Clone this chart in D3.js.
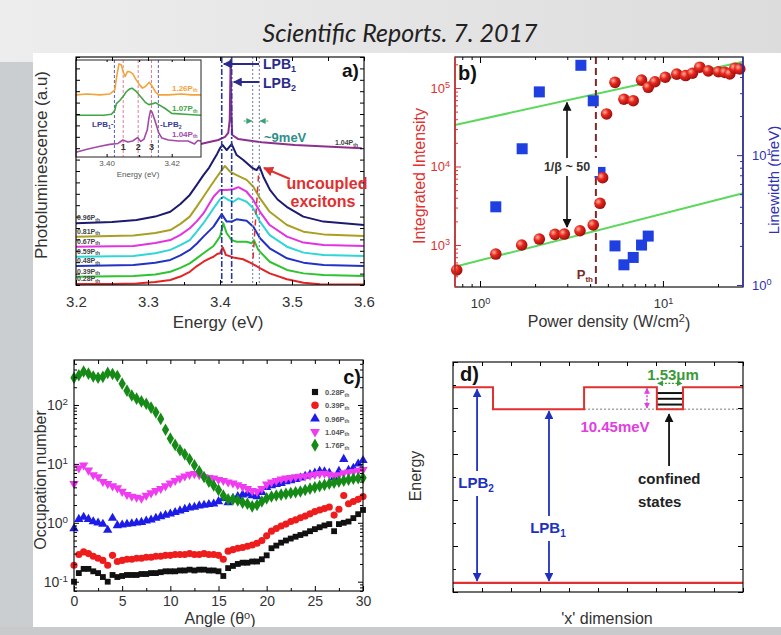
<!DOCTYPE html>
<html>
<head>
<meta charset="utf-8">
<script src="https://cdn.jsdelivr.net/npm/d3@7"></script>
<style>
  body { margin: 0; overflow: hidden; background: #fff; }
  svg { display: block; }
</style>
</head>
<body>
<script>
// ---------------- Panel a: PL spectra [energy (eV), intensity (a.u.)] ----------------
const spec028 = [[3.20,0.4],[3.25,0.4],[3.284,0.7],[3.31,1.3],[3.331,2.2],[3.345,3.7],[3.358,5.8],[3.368,8.3],[3.377,10.2],[3.385,11.6],[3.391,12.4],[3.396,13.6],[3.400,13.9],[3.4037,16.5],[3.4065,14.5],[3.408,13.2],[3.4185,12.1],[3.432,11.3],[3.444,9.5],[3.456,7.3],[3.469,5.1],[3.493,2.5],[3.516,1.0],[3.539,0.3],[3.60,0.2]];
const spec039 = [[3.20,3.6],[3.28,3.9],[3.31,4.6],[3.331,5.8],[3.345,7.5],[3.358,9.5],[3.368,11.8],[3.377,13.9],[3.391,17.1],[3.400,21.2],[3.4046,27.1],[3.4093,22.7],[3.4162,19.7],[3.4231,19.0],[3.437,19.0],[3.444,18.3],[3.4472,19.7],[3.4532,15.4],[3.469,10.2],[3.493,6.6],[3.516,5.1],[3.544,4.4],[3.60,3.9]];
const spec048 = [[3.20,8.3],[3.28,8.8],[3.31,9.8],[3.331,11.0],[3.345,13.0],[3.358,15.4],[3.368,18.2],[3.377,21.2],[3.391,25.6],[3.4024,31.1],[3.4093,27.8],[3.4162,27.8],[3.4231,28.8],[3.437,28.2],[3.4463,25.6],[3.4556,20.5],[3.469,16.1],[3.493,11.7],[3.516,9.8],[3.544,8.8],[3.60,8.3]];
const spec059 = [[3.20,12.4],[3.28,12.7],[3.31,13.9],[3.331,15.4],[3.345,17.5],[3.358,19.7],[3.368,23.5],[3.377,27.1],[3.391,33.6],[3.400,37.6],[3.4046,38.7],[3.4116,37.3],[3.4185,36.5],[3.4255,38.0],[3.437,36.5],[3.4463,33.6],[3.4556,27.8],[3.469,21.9],[3.493,16.8],[3.516,14.2],[3.544,13.2],[3.60,12.7]];
const spec067 = [[3.20,16.8],[3.28,17.1],[3.31,18.4],[3.331,19.7],[3.345,22.0],[3.358,24.9],[3.368,28.0],[3.377,31.4],[3.391,38.7],[3.400,41.7],[3.4093,41.7],[3.4185,42.0],[3.4255,42.9],[3.437,40.9],[3.4463,37.3],[3.4556,32.1],[3.469,26.3],[3.493,21.2],[3.516,18.6],[3.544,17.5],[3.60,17.1]];
const spec081 = [[3.20,21.2],[3.28,21.7],[3.31,22.8],[3.331,24.1],[3.345,26.8],[3.358,30.0],[3.368,34.5],[3.377,38.7],[3.391,45.3],[3.4024,50.4],[3.4069,52.2],[3.4139,49.7],[3.4231,48.2],[3.437,46.1],[3.4463,43.1],[3.4556,38.0],[3.469,32.1],[3.493,26.3],[3.516,23.4],[3.544,22.2],[3.60,21.5]];
const spec096 = [[3.20,27.1],[3.25,27.6],[3.284,28.5],[3.31,30.0],[3.331,32.1],[3.345,35.5],[3.358,39.5],[3.368,44.0],[3.377,48.2],[3.385,51.5],[3.391,54.8],[3.396,57.5],[3.400,60.0],[3.4037,61.4],[3.4093,59.2],[3.4162,61.8],[3.4231,57.0],[3.4324,54.8],[3.4454,51.2],[3.4509,50.4],[3.4546,52.2],[3.4602,47.5],[3.4694,41.7],[3.48,37.5],[3.4926,34.3],[3.5157,30.0],[3.5435,27.8],[3.60,26.3]];
const spec104 = [[3.370,61.6],[3.3837,62.6],[3.3977,63.6],[3.407,65.0],[3.4115,66.7],[3.4135,72.4],[3.4148,98.7],[3.4160,73.2],[3.417,65.8],[3.4254,64.0],[3.4347,63.6],[3.4579,62.6],[3.504,61.4],[3.597,60.0]];
const spectraA = [spec028, spec039, spec048, spec059, spec067, spec081, spec096, spec104];
const powerLabelsA = ["0.28", "0.39", "0.48", "0.59", "0.67", "0.81", "0.96", "1.04"];
const energyTicksA = [3.2, 3.3, 3.4, 3.5, 3.6];
const lpbEnergies = [3.4024, 3.4162];          // LPB1, LPB2
const excitonEnergies = [3.4454, 3.4546];      // ~9 meV pair

// Inset: zoomed spectra [energy (eV), intensity (a.u.)]
const inset126 = [[3.3906,64],[3.394,65],[3.398,64],[3.401,65],[3.4025,69],[3.4032,85],[3.4038,96],[3.4045,95],[3.405,89],[3.4057,83],[3.4064,88],[3.407,88],[3.408,86],[3.409,80],[3.410,75],[3.411,71],[3.412,73],[3.4131,77],[3.414,73],[3.415,67],[3.416,64],[3.419,64],[3.423,65],[3.426,64],[3.429,64]];
const inset107 = [[3.3906,43],[3.395,43],[3.399,43],[3.4015,44],[3.4025,48],[3.403,55],[3.404,58],[3.405,62],[3.406,67],[3.407,70],[3.4078,71],[3.409,68],[3.410,64],[3.411,60],[3.412,56],[3.413,54],[3.4142,55],[3.415,56],[3.416,54],[3.418,50],[3.420,45],[3.424,44],[3.429,43]];
const inset104 = [[3.3906,5],[3.394,8],[3.398,11],[3.401,13],[3.4035,14],[3.405,17.5],[3.4065,15.5],[3.408,16.5],[3.4095,20],[3.4105,16],[3.4115,18.5],[3.4125,28],[3.413,40],[3.4135,48],[3.414,46],[3.415,36],[3.416,25],[3.417,19.5],[3.419,17.5],[3.422,16.5],[3.425,16.5],[3.427,13.5],[3.428,17],[3.429,16.5]];
const insetSpectra = [inset126, inset107, inset104];
const insetLabels = ["1.26P", "1.07P", "1.04P"];
const insetModeEnergies = [3.4051, 3.4097, 3.4138];   // modes 1, 2, 3
const insetTicks = [3.40, 3.42];

// ---------------- Panel b: power dependence ----------------
const powerRed = [0.746,1.22,1.69,2.11,2.57,2.89,3.52,4.16,4.53,4.68,4.92,5.47,6.12,6.88,7.64,8.31,9.04,10.3,11.9,13.3,14.5,15.9,17.7,20.1,21.8,23.2,24.7,26.3];
const intensity = [481,767,1000,1192,1368,1380,1520,1800,3400,7200,46700,118000,71800,68900,126000,102000,120000,137000,150000,144000,154000,184000,165000,161000,158000,151000,178000,175000];
const powerBlue = [1.22,1.70,2.11,3.56,4.16,4.53,5.47,6.12,6.88,7.64,8.31];
const linewidth = [4.0,11.2,30.7,49.2,26.2,7.36,2.0,1.43,1.63,2.03,2.38];
const fitUpper = [[0.73,33800],[27.4,216000]];
const fitLower = [[0.73,530],[27.4,4560]];
const pThreshold = 4.3;

// ---------------- Panel c: occupation vs angle ----------------
const angles = d3.range(0, 30.001, 0.5);
const occ028 = [0.10,0.14,0.165,0.165,0.15,0.14,0.12,0.10,0.13,0.12,0.125,0.13,0.13,0.13,0.135,0.135,0.14,0.14,0.145,0.15,0.15,0.15,0.155,0.155,0.16,0.155,0.16,0.16,0.155,0.155,0.15,0.125,0.17,0.185,0.20,0.21,0.21,0.22,0.22,0.24,0.28,0.37,0.41,0.46,0.50,0.54,0.58,0.62,0.66,0.72,0.78,0.84,0.90,0.95,0.72,0.95,1.0,1.05,1.2,1.4,1.65];
const occ039 = [0.19,0.29,0.32,0.30,0.27,0.25,0.23,0.19,0.28,0.22,0.23,0.24,0.24,0.25,0.25,0.26,0.26,0.27,0.27,0.28,0.28,0.29,0.29,0.29,0.30,0.29,0.29,0.30,0.29,0.29,0.28,0.24,0.33,0.35,0.37,0.38,0.40,0.42,0.45,0.50,0.60,0.72,0.80,0.88,0.95,1.05,1.12,1.22,1.30,1.42,1.55,1.65,1.75,1.85,1.35,1.7,2.9,2.1,2.3,2.5,2.8];
const occ096 = [0.8,1.15,1.25,1.15,1.05,1.0,0.95,0.75,1.2,0.9,0.92,0.95,0.97,1.0,1.02,1.08,1.12,1.2,1.28,1.35,1.42,1.5,1.6,1.7,1.8,1.85,1.95,2.0,2.05,2.1,2.3,2.6,2.2,2.6,2.8,3.0,3.1,2.9,2.8,3.3,4.0,4.3,4.5,4.7,5.0,5.2,5.5,5.8,6.2,6.6,7.0,7.5,7.4,7.0,5.8,7.5,12.0,7.8,8.5,10.0,11.5];
const occ104 = [4.6,8.5,9.5,7.8,6.5,6.0,5.0,4.6,4.2,3.9,3.4,3.0,2.8,2.7,2.6,2.9,3.2,3.5,3.8,4.2,4.7,5.2,5.7,6.2,6.6,6.8,6.5,6.0,5.8,5.7,5.4,5.2,4.9,4.7,4.4,4.1,3.8,3.5,3.4,3.8,4.5,4.9,5.2,5.5,5.7,5.8,6.0,6.1,6.2,6.4,6.6,6.8,6.9,6.6,6.3,6.5,7.0,7.2,7.4,7.7,8.0];
const occ176 = [290,320,370,340,305,290,300,350,335,310,230,175,145,128,115,105,90,75,58,38,27,21,17,14.5,12,9.5,7.5,6.0,5.0,4.3,3.6,2.9,2.5,2.5,2.4,2.2,2.1,1.9,2.0,2.3,2.6,2.8,2.9,3.0,3.1,3.2,3.3,3.4,3.6,3.8,4.0,4.2,4.4,4.6,4.8,5.0,5.2,5.4,5.6,5.7,5.8];
const occSeries = [occ028, occ039, occ096, occ104, occ176];
const occLabels = ["0.28", "0.39", "0.96", "1.04", "1.76"];
const angleTicks = [0, 5, 10, 15, 20, 25, 30];

// ---------------- Panel d: potential landscape ----------------
const profile = [[0,8.9],[1.38,8.9],[1.38,7.95],[4.52,7.95],[4.52,8.9],[7.03,8.9],[7.03,7.95],[7.93,7.95],[7.93,8.9],[10,8.9]];
const floorLevel = 0.4;
const confinedLevels = [8.65, 8.4, 8.15];
const trapEdges = [7.03, 7.93];

// ---------------- styling ----------------
const FONT = "'Liberation Sans', Arial, Helvetica, sans-serif";
const colorsA = ["#e32424", "#2fc42f", "#2233c4", "#2fd6d6", "#e232e2", "#a9a022", "#1b1a6e", "#8c2f8e"];
const colorsInset = ["#f2a33a", "#3fa545", "#a24aa6"];
const colorsC = ["#111111", "#ee1c1c", "#1c1ce8", "#f03cf0", "#168a16"];
const symbolsC = [d3.symbolSquare, d3.symbolCircle, d3.symbolTriangle, d3.symbolTriangle, d3.symbolDiamond];

const svg = d3.select("body").append("svg").attr("width", 781).attr("height", 635)
  .attr("font-family", FONT);
const defs = svg.append("defs");

// background of the slide
const bg = defs.append("linearGradient").attr("id", "bgGrad");
bg.append("stop").attr("offset", "0%").attr("stop-color", "#ededed");
bg.append("stop").attr("offset", "100%").attr("stop-color", "#dcdcdc");
svg.append("rect").attr("width", 781).attr("height", 635).attr("fill", "url(#bgGrad)");
svg.append("rect").attr("x", 0).attr("y", 62).attr("width", 34).attr("height", 573).attr("fill", "#cbced0");
svg.append("rect").attr("x", 33).attr("y", 53).attr("width", 748).attr("height", 574).attr("fill", "#ffffff");

svg.append("text").attr("x", 400).attr("y", 42).attr("text-anchor", "middle")
  .attr("font-family", "Lato, 'Open Sans', sans-serif").attr("font-style", "italic")
  .attr("font-size", 25).attr("fill", "#222").text("Scientific Reports. 7. 2017");

// arrow markers
function marker(id, color, size) {
  defs.append("marker").attr("id", id).attr("viewBox", "0 0 10 10").attr("refX", 9).attr("refY", 5)
    .attr("markerWidth", size).attr("markerHeight", size).attr("markerUnits", "userSpaceOnUse")
    .attr("orient", "auto-start-reverse")
    .append("path").attr("d", "M0,0 L10,5 L0,10 Z").attr("fill", color);
}
marker("arNavy", "#2a2a8c", 9);
marker("arRed", "#e03030", 10);
marker("arTeal", "#3aa070", 6);
marker("arBlack", "#111", 9);
marker("arBlue", "#2030c0", 9);
marker("arMag", "#e040e0", 6);
marker("arGreen", "#3a9a3a", 6);

function styleAxis(g, size, color) {
  g.attr("font-family", FONT).attr("font-size", size);
  g.selectAll(".tick text").attr("fill", color || "#333");
  return g;
}
function powLabels(g) {
  g.selectAll(".tick text").each(function (d) {
    const t = d3.select(this);
    const e = Math.round(Math.log10(d));
    t.text(null);
    t.append("tspan").text("10");
    t.append("tspan").attr("dy", "-0.5em").attr("font-size", "70%").text(e);
  });
}
function minorLog(domain) {
  const out = [];
  const lo = Math.floor(Math.log10(domain[0])), hi = Math.ceil(Math.log10(domain[1]));
  for (let e = lo; e <= hi; e++) for (let m = 2; m <= 9; m++) {
    const v = m * Math.pow(10, e);
    if (v >= domain[0] && v <= domain[1]) out.push(v);
  }
  return out;
}
function subText(sel, main, sub, subSize) {
  sel.append("tspan").text(main);
  sel.append("tspan").attr("dy", "0.3em").attr("font-size", subSize).text(sub);
}

// =================== Panel a ===================
const xA = d3.scaleLinear([3.2, 3.6], [76, 364]);
const yA = d3.scaleLinear([0, 100], [285, 57]);
const gA = svg.append("g");
defs.append("clipPath").attr("id", "clipA").append("rect")
  .attr("x", 76).attr("y", 57).attr("width", 288).attr("height", 228);
const lineA = d3.line().x(d => xA(d[0])).y(d => yA(d[1]));
const curvesA = gA.append("g").attr("clip-path", "url(#clipA)");
spectraA.forEach((s, i) => {
  curvesA.append("path").datum(s).attr("d", lineA).attr("fill", "none")
    .attr("stroke", colorsA[i]).attr("stroke-width", 2).attr("stroke-linejoin", "round");
});
// LPB and exciton guide lines
lpbEnergies.forEach(e => {
  gA.append("line").attr("x1", xA(e)).attr("x2", xA(e)).attr("y1", 57).attr("y2", 285)
    .attr("stroke", "#2a3a9a").attr("stroke-width", 1.6).attr("stroke-dasharray", "6,2,2,2");
});
excitonEnergies.forEach(e => {
  gA.append("line").attr("x1", xA(e)).attr("x2", xA(e)).attr("y1", 57).attr("y2", 285)
    .attr("stroke", "#6a78a8").attr("stroke-width", 1).attr("stroke-dasharray", "2,2");
});
// uncoupled exciton marker
gA.append("line").attr("x1", xA(3.4535)).attr("y1", yA(48)).attr("x2", xA(3.4455)).attr("y2", yA(10))
  .attr("stroke", "#e03030").attr("stroke-width", 1.5).attr("stroke-dasharray", "6,5");

// power labels on the left of each spectrum
spectraA.forEach((s, i) => {
  const last = i === spectraA.length - 1;
  const t = gA.append("text").attr("font-size", 7).attr("font-weight", "bold").attr("fill", "#444")
    .attr("x", last ? 335 : 77).attr("y", yA(last ? s[s.length - 1][1] : s[0][1]) - 3);
  subText(t, powerLabelsA[i] + "P", "th", 5);
});

// inset
const xI = d3.scaleLinear([3.3906, 3.429], [76, 201]);
const yI = d3.scaleLinear([0, 100], [157, 60]);
const gI = gA.append("g");
gI.append("rect").attr("x", 76).attr("y", 60).attr("width", 125).attr("height", 97).attr("fill", "#fff");
const lineI = d3.line().x(d => xI(d[0])).y(d => yI(d[1]));
[lpbEnergies[0], lpbEnergies[1] - 0.0003].forEach(e => {
  gI.append("line").attr("x1", xI(e)).attr("x2", xI(e)).attr("y1", 60).attr("y2", 157)
    .attr("stroke", "#5a5ab8").attr("stroke-width", 1).attr("stroke-dasharray", "3,2");
});
insetModeEnergies.forEach(e => {
  gI.append("line").attr("x1", xI(e)).attr("x2", xI(e)).attr("y1", 60).attr("y2", 157)
    .attr("stroke", "#e57a9a").attr("stroke-width", 1).attr("stroke-dasharray", "3,2");
});
insetSpectra.forEach((s, i) => {
  gI.append("path").datum(s).attr("d", lineI).attr("fill", "none")
    .attr("stroke", colorsInset[i]).attr("stroke-width", 1.6).attr("stroke-linejoin", "round");
});
insetSpectra.forEach((s, i) => {
  const t = gI.append("text").attr("x", 172).attr("y", yI(s[s.length - 1][1]) - 4)
    .attr("font-size", 8).attr("font-weight", "bold").attr("fill", colorsInset[i]);
  subText(t, insetLabels[i], "th", 5);
});
insetModeEnergies.forEach((e, i) => {
  gI.append("text").attr("x", xI(e)).attr("y", 150).attr("text-anchor", "middle")
    .attr("font-size", 9).attr("font-weight", "bold").attr("fill", "#333").text(i + 1);
});
{
  const t1 = gI.append("text").attr("x", 92).attr("y", 127).attr("font-size", 8).attr("font-weight", "bold").attr("fill", "#3a3a9a");
  t1.append("tspan").text("LPB"); t1.append("tspan").attr("dy", "0.3em").attr("font-size", 5).text("1");
  t1.append("tspan").attr("dy", "-0.3em").text("-");
  const t2 = gI.append("text").attr("x", 160).attr("y", 127).attr("font-size", 8).attr("font-weight", "bold").attr("fill", "#3a3a9a");
  t2.append("tspan").text("-LPB"); t2.append("tspan").attr("dy", "0.3em").attr("font-size", 5).text("2");
}
gI.append("rect").attr("x", 76).attr("y", 60).attr("width", 125).attr("height", 97)
  .attr("fill", "none").attr("stroke", "#222").attr("stroke-width", 1);
styleAxis(gI.append("g").attr("transform", "translate(0,157)")
  .call(d3.axisBottom(xI).tickValues(insetTicks).tickSizeInner(-3).tickSizeOuter(0).tickPadding(3).tickFormat(d3.format(".2f"))), 8, "#555");
gI.append("g").attr("transform", "translate(0,157)")
  .call(d3.axisBottom(xI).tickValues([3.41]).tickSizeInner(-2).tickSizeOuter(0).tickFormat(""));
gI.append("g").attr("transform", "translate(0,60)")
  .call(d3.axisTop(xI).tickValues([3.40, 3.41, 3.42]).tickSizeInner(-2).tickSizeOuter(0).tickFormat(""));
gI.selectAll(".domain").remove();
gI.append("text").attr("x", 138).attr("y", 177).attr("text-anchor", "middle").attr("font-size", 8).attr("fill", "#555").text("Energy (eV)");

// main frame and axes of panel a
gA.append("rect").attr("x", 76).attr("y", 57).attr("width", 288).attr("height", 228)
  .attr("fill", "none").attr("stroke", "#111").attr("stroke-width", 1.2);
styleAxis(gA.append("g").attr("transform", "translate(0,285)")
  .call(d3.axisBottom(xA).tickValues(energyTicksA).tickSizeInner(-5).tickSizeOuter(0).tickPadding(11).tickFormat(d3.format(".1f"))), 15);
gA.append("g").attr("transform", "translate(0,285)")
  .call(d3.axisBottom(xA).tickValues([3.25, 3.35, 3.45, 3.55]).tickSizeInner(-3).tickSizeOuter(0).tickFormat(""));
gA.append("g").attr("transform", "translate(0,57)")
  .call(d3.axisTop(xA).tickValues(d3.range(3.2, 3.601, 0.05)).tickSizeInner(-4).tickSizeOuter(0).tickFormat(""));
gA.append("g").attr("transform", "translate(76,0)")
  .call(d3.axisLeft(yA).tickValues(d3.range(0, 101, 5)).tickSizeInner(-4).tickSizeOuter(0).tickFormat(""));
gA.append("g").attr("transform", "translate(364,0)")
  .call(d3.axisRight(yA).tickValues(d3.range(0, 101, 5)).tickSizeInner(-4).tickSizeOuter(0).tickFormat(""));
gA.selectAll(".domain").remove();

gA.append("text").attr("transform", "translate(47,165) rotate(-90)").attr("text-anchor", "middle")
  .attr("font-size", 17).attr("fill", "#333").text("Photoluminescence (a.u)");
gA.append("text").attr("x", 218).attr("y", 328).attr("text-anchor", "middle")
  .attr("font-size", 17).attr("fill", "#333").text("Energy (eV)");
gA.append("text").attr("x", 342).attr("y", 77).attr("font-size", 19).attr("font-weight", "bold").attr("fill", "#111").text("a)");

// LPB arrows
[[lpbEnergies[0], 64, 69], [lpbEnergies[1], 82, 88]].forEach((d, i) => {
  gA.append("line").attr("x1", 259).attr("x2", xA(d[0]) + 2).attr("y1", d[1]).attr("y2", d[1])
    .attr("stroke", "#2a2a8c").attr("stroke-width", 2).attr("marker-end", "url(#arNavy)");
  const t = gA.append("text").attr("x", 263).attr("y", d[2]).attr("font-size", 14).attr("font-weight", "bold").attr("fill", "#2a2a8c");
  t.append("tspan").text("LPB"); t.append("tspan").attr("dy", "0.35em").attr("font-size", 9).text(i + 1);
});
// ~9 meV marker
gA.append("line").attr("x1", xA(excitonEnergies[0]) - 9).attr("x2", xA(excitonEnergies[0]) - 1).attr("y1", 121).attr("y2", 121)
  .attr("stroke", "#3aa070").attr("stroke-width", 1.2).attr("stroke-dasharray", "2,1.5").attr("marker-end", "url(#arTeal)");
gA.append("line").attr("x1", xA(excitonEnergies[1]) + 9).attr("x2", xA(excitonEnergies[1]) + 1).attr("y1", 121).attr("y2", 121)
  .attr("stroke", "#3aa070").attr("stroke-width", 1.2).attr("stroke-dasharray", "2,1.5").attr("marker-end", "url(#arTeal)");
gA.append("text").attr("x", 264).attr("y", 142).attr("font-size", 13).attr("font-weight", "bold").attr("fill", "#2e8f8a").text("~9meV");
// uncoupled excitons
gA.append("line").attr("x1", 290).attr("y1", 179).attr("x2", 264).attr("y2", 168)
  .attr("stroke", "#e03030").attr("stroke-width", 2).attr("marker-end", "url(#arRed)");
gA.append("text").attr("x", 327).attr("y", 189).attr("text-anchor", "middle").attr("font-size", 16).attr("font-weight", "bold").attr("fill", "#e03030").text("uncoupled");
gA.append("text").attr("x", 323).attr("y", 207).attr("text-anchor", "middle").attr("font-size", 16).attr("font-weight", "bold").attr("fill", "#e03030").text("excitons");

// =================== Panel b ===================
const xB = d3.scaleLog([0.73, 27.4], [455, 743]);
const yB = d3.scaleLog([292, 248000], [287, 57]);
const yB2 = d3.scaleLog([0.965, 57], [287, 57]);
const gB = svg.append("g");
const sph = defs.append("radialGradient").attr("id", "sphere").attr("cx", "35%").attr("cy", "35%").attr("r", "65%");
sph.append("stop").attr("offset", "0%").attr("stop-color", "#ffb0a0");
sph.append("stop").attr("offset", "45%").attr("stop-color", "#e8281c");
sph.append("stop").attr("offset", "100%").attr("stop-color", "#a01010");

const lineB = d3.line().x(d => xB(d[0])).y(d => yB(d[1]));
[fitUpper, fitLower].forEach(f => {
  gB.append("path").datum(f).attr("d", lineB).attr("stroke", "#5cd85c").attr("stroke-width", 2).attr("fill", "none");
});
gB.append("line").attr("x1", xB(pThreshold)).attr("x2", xB(pThreshold)).attr("y1", 57).attr("y2", 287)
  .attr("stroke", "#7a2a2a").attr("stroke-width", 2).attr("stroke-dasharray", "7,4");
gB.selectAll("rect.lw").data(powerBlue).join("rect").attr("class", "lw")
  .attr("x", (d, i) => xB(d) - 5.5).attr("y", (d, i) => yB2(linewidth[i]) - 5.5)
  .attr("width", 11).attr("height", 11).attr("fill", "#1f3fe0");
gB.selectAll("circle.ii").data(powerRed).join("circle").attr("class", "ii")
  .attr("cx", d => xB(d)).attr("cy", (d, i) => yB(intensity[i])).attr("r", 5.8).attr("fill", "url(#sphere)");

// double arrow for 1/beta
gB.append("line").attr("x1", 567).attr("x2", 567).attr("y1", yB(fitUpper[0][1] * Math.pow(fitUpper[1][1] / fitUpper[0][1], Math.log10(3.12 / 0.73) / Math.log10(27.4 / 0.73))) + 3)
  .attr("y2", yB(1600) - 2)
  .attr("stroke", "#111").attr("stroke-width", 1.6).attr("marker-start", "url(#arBlack)").attr("marker-end", "url(#arBlack)");
gB.append("rect").attr("x", 536).attr("y", 158).attr("width", 62).attr("height", 18).attr("fill", "#fff");
gB.append("text").attr("x", 567).attr("y", 171).attr("text-anchor", "middle").attr("font-size", 12.5)
  .attr("font-weight", "bold").attr("fill", "#333").text("1/β ~ 50");
{
  const t = gB.append("text").attr("x", 593).attr("y", 279).attr("text-anchor", "end").attr("font-size", 13).attr("font-weight", "bold").attr("fill", "#7a2a2a");
  t.append("tspan").text("P"); t.append("tspan").attr("dy", "0.35em").attr("font-size", 8).text("th");
}
gB.append("rect").attr("x", 455).attr("y", 57).attr("width", 288).attr("height", 230).attr("fill", "none")
  .attr("stroke", "#111").attr("stroke-width", 1.2);
gB.append("line").attr("x1", 455).attr("x2", 455).attr("y1", 57).attr("y2", 287).attr("stroke", "#e03030").attr("stroke-width", 1.4);
gB.append("line").attr("x1", 743).attr("x2", 743).attr("y1", 57).attr("y2", 287).attr("stroke", "#3030b0").attr("stroke-width", 1.4);
{
  const gx = gB.append("g").attr("transform", "translate(0,287)")
    .call(d3.axisBottom(xB).tickValues([1, 10]).tickSizeInner(-6).tickSizeOuter(0).tickPadding(12));
  styleAxis(gx, 13); powLabels(gx);
  gB.append("g").attr("transform", "translate(0,287)")
    .call(d3.axisBottom(xB).tickValues(minorLog(xB.domain())).tickSizeInner(-3).tickSizeOuter(0).tickFormat(""));
  gB.append("g").attr("transform", "translate(0,57)")
    .call(d3.axisTop(xB).tickValues([1, 10]).tickSizeInner(-6).tickSizeOuter(0).tickFormat(""));
  gB.append("g").attr("transform", "translate(0,57)")
    .call(d3.axisTop(xB).tickValues(minorLog(xB.domain())).tickSizeInner(-3).tickSizeOuter(0).tickFormat(""));
  const gl = gB.append("g").attr("transform", "translate(455,0)").attr("color", "#e03030")
    .call(d3.axisLeft(yB).tickValues([1e3, 1e4, 1e5]).tickSizeInner(-6).tickSizeOuter(0).tickPadding(5));
  styleAxis(gl, 13, "#e03030"); powLabels(gl);
  gB.append("g").attr("transform", "translate(455,0)").attr("color", "#e03030")
    .call(d3.axisLeft(yB).tickValues(minorLog(yB.domain())).tickSizeInner(-3).tickSizeOuter(0).tickFormat(""));
  const gr = gB.append("g").attr("transform", "translate(743,0)").attr("color", "#3030b0")
    .call(d3.axisRight(yB2).tickValues([1, 10]).tickSizeInner(-6).tickSizeOuter(0).tickPadding(9));
  styleAxis(gr, 13, "#3030b0"); powLabels(gr);
  gB.append("g").attr("transform", "translate(743,0)").attr("color", "#3030b0")
    .call(d3.axisRight(yB2).tickValues(minorLog(yB2.domain())).tickSizeInner(-3).tickSizeOuter(0).tickFormat(""));
  gB.selectAll(".domain").remove();
}
gB.append("text").attr("x", 458).attr("y", 80).attr("font-size", 20).attr("font-weight", "bold").attr("fill", "#111").text("b)");
gB.append("text").attr("transform", "translate(425,176) rotate(-90)").attr("text-anchor", "middle")
  .attr("font-size", 16).attr("fill", "#e03030").text("Integrated Intensity");
gB.append("text").attr("transform", "translate(779,180) rotate(-90)").attr("text-anchor", "middle")
  .attr("font-size", 15).attr("fill", "#3030b0").text("Linewidth (meV)");
{
  const t = gB.append("text").attr("x", 609).attr("y", 327).attr("text-anchor", "middle").attr("font-size", 16).attr("fill", "#333");
  t.append("tspan").text("Power density (W/cm");
  t.append("tspan").attr("dy", "-0.45em").attr("font-size", 11).text("2");
  t.append("tspan").attr("dy", "0.45em").text(")");
}

// =================== Panel c ===================
const xC = d3.scaleLinear([0, 30], [74, 363]);
const yC = d3.scaleLog([0.0695, 580], [591, 360]);
const gC = svg.append("g");
const symSize = [34, 40, 38, 38, 46];
occSeries.forEach((s, i) => {
  const sym = d3.symbol().type(symbolsC[i]).size(symSize[i]);
  gC.append("g").selectAll("path").data(s).join("path")
    .attr("d", sym)
    .attr("transform", (d, j) => `translate(${xC(angles[j])},${yC(d)})${i === 3 ? " rotate(180)" : ""}`)
    .attr("fill", colorsC[i]);
});
gC.append("rect").attr("x", 74).attr("y", 360).attr("width", 289).attr("height", 231).attr("fill", "none")
  .attr("stroke", "#111").attr("stroke-width", 1.2);
{
  styleAxis(gC.append("g").attr("transform", "translate(0,591)")
    .call(d3.axisBottom(xC).tickValues(angleTicks).tickSizeInner(-5).tickSizeOuter(0).tickPadding(5)), 14);
  gC.append("g").attr("transform", "translate(0,591)")
    .call(d3.axisBottom(xC).tickValues(d3.range(2.5, 30, 5)).tickSizeInner(-3).tickSizeOuter(0).tickFormat(""));
  gC.append("g").attr("transform", "translate(0,360)")
    .call(d3.axisTop(xC).tickValues(d3.range(0, 30.1, 2.5)).tickSizeInner(-4).tickSizeOuter(0).tickFormat(""));
  const gl = gC.append("g").attr("transform", "translate(74,0)")
    .call(d3.axisLeft(yC).tickValues([0.1, 1, 10, 100]).tickSizeInner(-5).tickSizeOuter(0).tickPadding(6));
  styleAxis(gl, 14); powLabels(gl);
  gC.append("g").attr("transform", "translate(74,0)")
    .call(d3.axisLeft(yC).tickValues(minorLog(yC.domain())).tickSizeInner(-3).tickSizeOuter(0).tickFormat(""));
  gC.append("g").attr("transform", "translate(363,0)")
    .call(d3.axisRight(yC).tickValues([0.1, 1, 10, 100]).tickSizeInner(-5).tickSizeOuter(0).tickFormat(""));
  gC.append("g").attr("transform", "translate(363,0)")
    .call(d3.axisRight(yC).tickValues(minorLog(yC.domain())).tickSizeInner(-3).tickSizeOuter(0).tickFormat(""));
  gC.selectAll(".domain").remove();
}
gC.append("text").attr("x", 361).attr("y", 384).attr("text-anchor", "end").attr("font-size", 20).attr("font-weight", "bold").attr("fill", "#111").text("c)");
occLabels.forEach((lab, i) => {
  const y = 392 + i * 13.3;
  gC.append("path").attr("d", d3.symbol().type(symbolsC[i]).size(symSize[i] + 4))
    .attr("transform", `translate(315,${y})${i === 3 ? " rotate(180)" : ""}`).attr("fill", colorsC[i]);
  const t = gC.append("text").attr("x", 325).attr("y", y + 3).attr("font-size", 7.5).attr("font-weight", "bold").attr("fill", "#555");
  subText(t, lab + "P", "th", 5);
});
gC.append("text").attr("transform", "translate(46,480) rotate(-90)").attr("text-anchor", "middle")
  .attr("font-size", 16).attr("fill", "#333").text("Occupation number");
{
  const t = gC.append("text").attr("x", 220).attr("y", 624).attr("text-anchor", "middle").attr("font-size", 16).attr("fill", "#333");
  t.append("tspan").text("Angle (θ");
  t.append("tspan").attr("dy", "-0.45em").attr("font-size", 11).text("o");
  t.append("tspan").attr("dy", "0.45em").text(")");
}

// =================== Panel d ===================
const xD = d3.scaleLinear([0, 10], [453, 743]);
const yD = d3.scaleLinear([0, 10], [592, 362]);
const gD = svg.append("g");
gD.append("line").attr("x1", xD(4.52)).attr("x2", xD(10)).attr("y1", yD(7.95)).attr("y2", yD(7.95))
  .attr("stroke", "#777").attr("stroke-width", 1).attr("stroke-dasharray", "2,2");
confinedLevels.forEach(l => {
  gD.append("line").attr("x1", xD(trapEdges[0])).attr("x2", xD(trapEdges[1])).attr("y1", yD(l)).attr("y2", yD(l))
    .attr("stroke", "#111").attr("stroke-width", 2);
});
const lineD = d3.line().x(d => xD(d[0])).y(d => yD(d[1]));
gD.append("path").datum(profile).attr("d", lineD).attr("fill", "none").attr("stroke", "#e03030").attr("stroke-width", 2);
gD.append("line").attr("x1", xD(0)).attr("x2", xD(10)).attr("y1", yD(floorLevel)).attr("y2", yD(floorLevel))
  .attr("stroke", "#e03030").attr("stroke-width", 2.2);
// LPB arrows
[[0.83, 8.9, "2", 483], [3.31, 7.95, "1", 528]].forEach(d => {
  gD.append("line").attr("x1", xD(d[0])).attr("x2", xD(d[0])).attr("y1", yD(d[1]) + 2).attr("y2", yD(floorLevel) - 2)
    .attr("stroke", "#2030c0").attr("stroke-width", 1.8).attr("marker-start", "url(#arBlue)").attr("marker-end", "url(#arBlue)");
  gD.append("rect").attr("x", xD(d[0]) - 19).attr("y", d[3] - 12).attr("width", 38).attr("height", 25).attr("fill", "#fff");
  const t = gD.append("text").attr("x", xD(d[0]) - 1).attr("y", d[3] + 5).attr("text-anchor", "middle")
    .attr("font-size", 15).attr("font-weight", "bold").attr("fill", "#2030c0");
  t.append("tspan").text("LPB"); t.append("tspan").attr("dy", "0.35em").attr("font-size", 10).text(d[2]);
});
// 10.45 meV
gD.append("line").attr("x1", xD(6.69)).attr("x2", xD(6.69)).attr("y1", yD(8.9) + 1).attr("y2", yD(7.95) - 1)
  .attr("stroke", "#e040e0").attr("stroke-width", 1.5).attr("stroke-dasharray", "2,1.5")
  .attr("marker-start", "url(#arMag)").attr("marker-end", "url(#arMag)");
gD.append("text").attr("x", 615).attr("y", 432).attr("text-anchor", "middle").attr("font-size", 15)
  .attr("font-weight", "bold").attr("fill", "#e040e0").text("10.45meV");
// 1.53 um
gD.append("line").attr("x1", xD(trapEdges[0]) + 1).attr("x2", xD(trapEdges[1]) - 1).attr("y1", yD(9.07)).attr("y2", yD(9.07))
  .attr("stroke", "#3a9a3a").attr("stroke-width", 1.3).attr("stroke-dasharray", "2,1.5")
  .attr("marker-start", "url(#arGreen)").attr("marker-end", "url(#arGreen)");
gD.append("text").attr("x", 673).attr("y", 380).attr("text-anchor", "middle").attr("font-size", 15)
  .attr("font-weight", "bold").attr("fill", "#3a9a3a").text("1.53μm");
// confined states
gD.append("line").attr("x1", xD(7.45)).attr("x2", xD(7.45)).attr("y1", 466).attr("y2", yD(7.95) + 5)
  .attr("stroke", "#111").attr("stroke-width", 1.8).attr("marker-end", "url(#arBlack)");
gD.append("text").attr("x", 638).attr("y", 484).attr("font-size", 15).attr("font-weight", "bold").attr("fill", "#222").text("confined");
gD.append("text").attr("x", 638).attr("y", 507).attr("font-size", 15).attr("font-weight", "bold").attr("fill", "#222").text("states");

gD.append("rect").attr("x", 453).attr("y", 362).attr("width", 290).attr("height", 230).attr("fill", "none")
  .attr("stroke", "#111").attr("stroke-width", 1.2);
{
  const tx = d3.range(0, 10.01, 1);
  gD.append("g").attr("transform", "translate(0,592)").call(d3.axisBottom(xD).tickValues(tx).tickSizeInner(-4).tickSizeOuter(0).tickFormat(""));
  gD.append("g").attr("transform", "translate(0,362)").call(d3.axisTop(xD).tickValues(tx).tickSizeInner(-4).tickSizeOuter(0).tickFormat(""));
  gD.append("g").attr("transform", "translate(453,0)").call(d3.axisLeft(yD).tickValues(d3.range(0, 10.01, 2)).tickSizeInner(-5).tickSizeOuter(0).tickFormat(""));
  gD.append("g").attr("transform", "translate(453,0)").call(d3.axisLeft(yD).tickValues(d3.range(1, 10, 2)).tickSizeInner(-3).tickSizeOuter(0).tickFormat(""));
  gD.append("g").attr("transform", "translate(743,0)").call(d3.axisRight(yD).tickValues(d3.range(0, 10.01, 2)).tickSizeInner(-5).tickSizeOuter(0).tickFormat(""));
  gD.append("g").attr("transform", "translate(743,0)").call(d3.axisRight(yD).tickValues(d3.range(1, 10, 2)).tickSizeInner(-3).tickSizeOuter(0).tickFormat(""));
  gD.selectAll(".domain").remove();
}
gD.append("text").attr("x", 460).attr("y", 381).attr("font-size", 20).attr("font-weight", "bold").attr("fill", "#111").text("d)");
gD.append("text").attr("transform", "translate(421,476) rotate(-90)").attr("text-anchor", "middle")
  .attr("font-size", 16).attr("fill", "#333").text("Energy");
gD.append("text").attr("x", 607).attr("y", 624).attr("text-anchor", "middle").attr("font-size", 16)
  .attr("fill", "#333").text("'x' dimension");

// lower edge of the slide
svg.append("rect").attr("x", 0).attr("y", 627).attr("width", 781).attr("height", 8).attr("fill", "#c8cacc");
</script>
</body>
</html>
